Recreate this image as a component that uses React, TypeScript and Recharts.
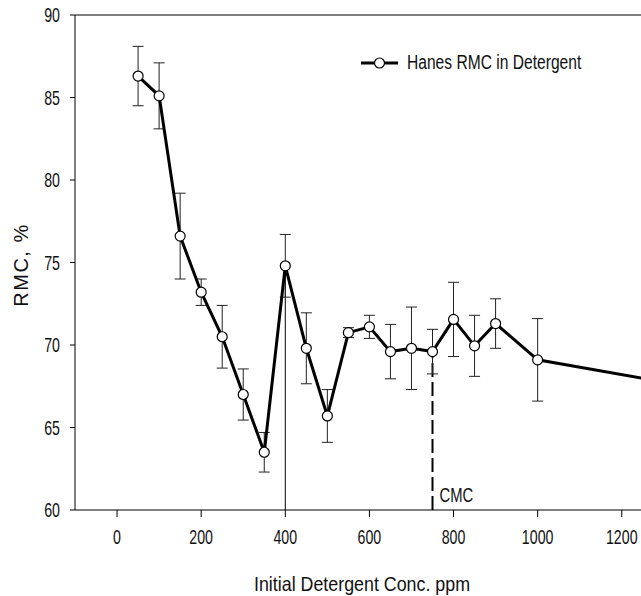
import React from 'react'
import {
  LineChart, Line, XAxis, YAxis, ErrorBar, ReferenceLine, Legend,
} from 'recharts'

// --- data ---
const conc = [50, 100, 150, 200, 250, 300, 350, 400, 450, 500, 550, 600, 650, 700, 750, 800, 850, 900, 1000, 1500]
const rmc = [86.3, 85.1, 76.6, 73.2, 70.5, 67.0, 63.5, 74.8, 69.8, 65.7, 70.75, 71.1, 69.6, 69.8, 69.6, 71.55, 69.95, 71.3, 69.1, 66.85]
const rmcErr = [1.8, 2.0, 2.6, 0.8, 1.9, 1.55, 1.2, 1.9, 2.15, 1.6, 0.3, 0.7, 1.65, 2.5, 1.35, 2.25, 1.85, 1.5, 2.5, 1.5]

// only the ticks that fall inside the visible part of the (cropped) axis
const xTicks = [0, 200, 400, 600, 800, 1000, 1200]
const yTicks = [60, 65, 70, 75, 80, 85, 90]

// vertical markers: solid one at the 400 ppm peak, dashed one at the CMC
const peakMarker = { conc: 400, top: 74.8 }
const cmcMarker = { conc: 750, top: 69.6, label: 'CMC' }

const seriesName = 'Hanes RMC in Detergent'
const xTitle = 'Initial Detergent Conc. ppm'
const yTitle = 'RMC, %'

const data = conc.map((c, i) => ({ conc: c, rmc: rmc[i], err: rmcErr[i] }))

const FONT = '"Liberation Sans", Arial, Helvetica, sans-serif'
const INK = '#111'

const XTick = ({ x, y, payload }: any) => (
  <text
    transform={`translate(${x},${y + 27}) scale(0.71,1)`}
    textAnchor="middle"
    fontSize={20}
    fontFamily={FONT}
    fill={INK}
  >
    {payload.value}
  </text>
)

const YTick = ({ x, y, payload }: any) => (
  <text
    transform={`translate(${x},${y + 7}) scale(0.71,1)`}
    textAnchor="end"
    fontSize={20}
    fontFamily={FONT}
    fill={INK}
  >
    {payload.value}
  </text>
)

const renderDot = (p: any) => (
  <circle key={`dot-${p.index}`} cx={p.cx} cy={p.cy} r={5} fill="#fff" stroke="#000" strokeWidth={1.2} />
)

const CmcLabel = (props: any) => {
  const vb = props.viewBox || {}
  const bx = (vb.x ?? 0) + 7
  const by = (vb.y ?? 0) + (vb.height ?? 0) - 8
  return (
    <text transform={`translate(${bx},${by}) scale(0.74,1)`} fontSize={20} fontFamily={FONT} fill={INK}>
      {cmcMarker.label}
    </text>
  )
}

const XTitle = () => (
  <text transform="translate(362,591) scale(0.85,1)" textAnchor="middle" fontSize={21} fontFamily={FONT} fill={INK}>
    {xTitle}
  </text>
)

const YTitle = () => (
  <text transform="translate(28,265) rotate(-90)" textAnchor="middle" fontSize={20} letterSpacing={1.5} fontFamily={FONT} fill={INK}>
    {yTitle}
  </text>
)

const LegendContent = () => (
  <div style={{ display: 'flex', alignItems: 'center', fontFamily: FONT, color: INK, whiteSpace: 'nowrap' }}>
    <svg width={40} height={14} style={{ display: 'block' }}>
      <line x1={1} y1={7} x2={38} y2={7} stroke="#000" strokeWidth={3} />
      <circle cx={19.5} cy={7} r={5} fill="#fff" stroke="#000" strokeWidth={1.2} />
    </svg>
    <span style={{ fontSize: 19.5, marginLeft: 6.7, display: 'inline-block', transform: 'scaleX(0.8)', transformOrigin: 'left center' }}>
      {seriesName}
    </span>
  </div>
)

export default function App() {
  return (
    <div style={{ position: 'absolute', left: 0, top: 0, width: 641, height: 596, overflow: 'hidden', background: '#fff' }}>
      <LineChart width={800} height={596} data={data} margin={{ top: 15, right: 10, left: 0, bottom: 0 }}>
        <XAxis
          dataKey="conc"
          type="number"
          domain={[-100, 1600]}
          ticks={xTicks}
          tick={<XTick />}
          tickSize={7}
          tickMargin={0}
          height={86}
          stroke="#000"
          tickLine={{ stroke: '#000' }}
          label={<XTitle />}
        />
        <YAxis
          type="number"
          domain={[60, 90]}
          ticks={yTicks}
          tick={<YTick />}
          tickSize={5}
          tickMargin={10}
          width={75}
          stroke="#000"
          tickLine={{ stroke: '#000' }}
          label={<YTitle />}
        />
        <ReferenceLine y={90} stroke="#000" strokeWidth={1} />
        <ReferenceLine
          segment={[{ x: peakMarker.conc, y: 60 }, { x: peakMarker.conc, y: peakMarker.top }]}
          stroke="#000"
          strokeWidth={1}
        />
        <ReferenceLine
          segment={[{ x: cmcMarker.conc, y: 60 }, { x: cmcMarker.conc, y: cmcMarker.top }]}
          stroke="#000"
          strokeWidth={2}
          strokeDasharray="14 5"
          label={<CmcLabel />}
        />
        <Legend
          layout="horizontal"
          verticalAlign="middle"
          align="center"
          content={<LegendContent />}
          wrapperStyle={{ position: 'absolute', left: 360, top: 51, width: 'auto', height: 'auto' }}
        />
        <Line
          dataKey="rmc"
          name={seriesName}
          stroke="#000"
          strokeWidth={3}
          dot={renderDot}
          activeDot={false}
          isAnimationActive={false}
        >
          <ErrorBar dataKey="err" direction="y" width={5.5} stroke="#222" strokeWidth={1} isAnimationActive={false} />
        </Line>
      </LineChart>
    </div>
  )
}
